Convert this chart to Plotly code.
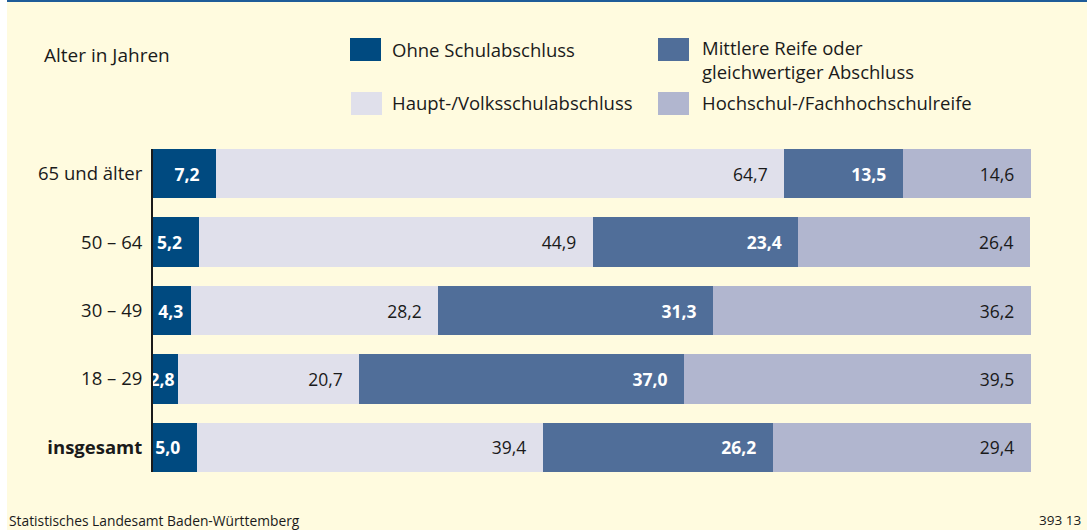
import plotly.graph_objects as go

categories = ["65 und älter", "50 – 64", "30 – 49", "18 – 29", "insgesamt"]
tick_labels = ["65 und älter", "50 – 64", "30 – 49", "18 – 29", "<b>insgesamt</b>"]
series_names = ["Ohne Schulabschluss", "Haupt-/Volksschulabschluss",
                "Mittlere Reife oder<br>gleichwertiger Abschluss",
                "Hochschul-/Fachhochschulreife"]
ohne = [7.2, 5.2, 4.3, 2.8, 5.0]
haupt = [64.7, 44.9, 28.2, 20.7, 39.4]
mittlere = [13.5, 23.4, 31.3, 37.0, 26.2]
hochschul = [14.6, 26.4, 36.2, 39.5, 29.4]

colors = ["#004A80", "#E0E0EB", "#506E99", "#B1B6CF"]
text_colors = ["white", "#1a1a1a", "white", "#1a1a1a"]
text_weights = ["bold", "normal", "bold", "normal"]
BG = "#FFFBDF"
FONT = "Open Sans"

W, H = 1087, 530
L, R, T, B = 153, 1031, 149, 472


def px(x):
    return (x - L) / (R - L)


def py(y):
    return (B - y) / (B - T)


def label(v):
    s = f"{v:.1f}".replace(".", ",")
    if v >= 5:
        return s + "\u00a0\u00a0\u00a0"
    if v >= 4:
        return s + "\u00a0"
    return s


fig = go.Figure()
for name, vals, col, tc, tw in zip(series_names, [ohne, haupt, mittlere, hochschul],
                                   colors, text_colors, text_weights):
    fig.add_trace(go.Bar(
        y=categories, x=vals, orientation="h", name=name,
        marker=dict(color=col, line=dict(width=0)),
        text=[label(v) for v in vals], textposition="inside", insidetextanchor="end",
        constraintext="none", textangle=0,
        textfont=dict(family=FONT, size=17.5, color=tc, weight=tw),
        hoverinfo="skip", showlegend=False,
    ))

shapes = []
annotations = []
# top blue rule and white left strip
shapes.append(dict(type="rect", xref="paper", yref="paper", x0=px(0), x1=px(W), y0=py(0), y1=py(2),
                   fillcolor="#1F5C99", line=dict(width=0), layer="above"))
shapes.append(dict(type="rect", xref="paper", yref="paper", x0=px(0), x1=px(7), y0=py(0), y1=py(H),
                   fillcolor="white", line=dict(width=0), layer="above"))

# legend
legend_pos = [(350, 38, 390, 49), (351, 92, 390, 103), (658, 38, 700, 60), (658, 92, 700, 103)]
for (sx, sy, tx, ty), name, col in zip(legend_pos, series_names, colors):
    shapes.append(dict(type="rect", xref="paper", yref="paper", x0=px(sx), x1=px(sx + 31),
                       y0=py(sy + 23), y1=py(sy), fillcolor=col, line=dict(width=0)))
    annotations.append(dict(xref="paper", yref="paper", x=px(tx), y=py(ty), text=name,
                            showarrow=False, xanchor="left", yanchor="middle", align="left",
                            font=dict(family=FONT, size=18.5, color="#1a1a1a")))

annotations.append(dict(xref="paper", yref="paper", x=px(42), y=py(55), text="Alter in Jahren",
                        showarrow=False, xanchor="left", yanchor="middle",
                        font=dict(family=FONT, size=19, color="#1a1a1a")))
annotations.append(dict(xref="paper", yref="paper", x=px(7), y=py(520),
                        text="Statistisches Landesamt Baden-Württemberg",
                        showarrow=False, xanchor="left", yanchor="middle",
                        font=dict(family=FONT, size=13.8, color="#1a1a1a")))
annotations.append(dict(xref="paper", yref="paper", x=px(1083), y=py(520), text="393 13",
                        showarrow=False, xanchor="right", yanchor="middle",
                        font=dict(family=FONT, size=13.5, color="#1a1a1a")))

fig.update_layout(
    width=W, height=H, barmode="stack", bargap=0.282,
    paper_bgcolor=BG, plot_bgcolor=BG,
    margin=dict(l=L, r=W - R, t=T, b=H - B, pad=0),
    font=dict(family=FONT, size=17, color="#1a1a1a"),
    shapes=shapes, annotations=annotations, showlegend=False,
)
fig.update_xaxes(range=[0, 100], visible=False, showgrid=False, zeroline=False, fixedrange=True)
fig.update_yaxes(type="category", categoryorder="array", categoryarray=categories,
                 tickvals=categories, ticktext=tick_labels,
                 range=[4.359, -0.359], autorange=False, fixedrange=True,
                 showline=True, linecolor="#1a1a1a", linewidth=2, showgrid=False, zeroline=False,
                 ticks="", ticklabelstandoff=5,
                 tickfont=dict(family=FONT, size=18.5, color="#1a1a1a"))

fig.write_html("out.html", config={"displayModeBar": False},
               post_script="document.body.style.margin='0';document.body.style.overflow='hidden';")
